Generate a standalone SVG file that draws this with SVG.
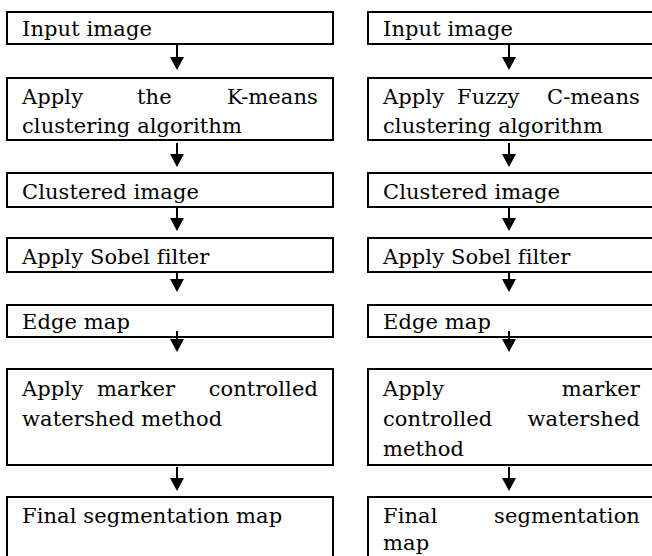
<svg xmlns="http://www.w3.org/2000/svg" width="652" height="556" viewBox="0 0 652 556">
  <style>
    .box { fill: #fff; stroke: #000; stroke-width: 2; }
    .t { font-family: "DejaVu Serif", "Liberation Serif", serif; font-size: 21px; fill: #000; letter-spacing: 0.1px; }
    .e { text-anchor: end; }
    .conn { stroke: #000; stroke-width: 2; fill: none; marker-end: url(#ah); }
  </style>
  <defs>
    <marker id="ah" viewBox="0 0 13 14" refX="1" refY="7" markerWidth="13" markerHeight="14" markerUnits="userSpaceOnUse" orient="auto">
      <path d="M0,0 L13,7 L0,14 z" fill="#000"/>
    </marker>
  </defs>
  <rect width="652" height="556" fill="#fff"/>

  <!-- Left column -->
  <g id="l1"><rect class="box" x="7" y="12" width="326" height="32"/><text class="t" x="22" y="36">Input image</text></g>
  <g id="l2"><rect class="box" x="7" y="78" width="326" height="62"/>
    <text class="t" x="22" y="104">Apply</text><text class="t" x="137" y="104">the</text><text class="t e" x="318" y="104">K-means</text>
    <text class="t" x="22" y="133">clustering algorithm</text></g>
  <g id="l3"><rect class="box" x="7" y="173" width="326" height="34"/><text class="t" x="22" y="199">Clustered image</text></g>
  <g id="l4"><rect class="box" x="7" y="238" width="326" height="34"/><text class="t" x="22" y="264">Apply Sobel filter</text></g>
  <g id="l5"><rect class="box" x="7" y="305" width="326" height="32"/><text class="t" x="22" y="329">Edge map</text></g>
  <g id="l6"><rect class="box" x="7" y="369" width="326" height="96"/>
    <text class="t" x="22" y="396">Apply</text><text class="t" x="97" y="396">marker</text><text class="t e" x="318" y="396">controlled</text>
    <text class="t" x="22" y="426">watershed method</text></g>
  <g id="l7"><rect class="box" x="7" y="497" width="326" height="80"/><text class="t" x="22" y="523">Final segmentation map</text></g>

  <!-- Right column -->
  <g id="r1"><rect class="box" x="368" y="12" width="300" height="32"/><text class="t" x="383" y="36">Input image</text></g>
  <g id="r2"><rect class="box" x="368" y="78" width="300" height="62"/>
    <text class="t" x="383" y="104">Apply</text><text class="t" x="457" y="104">Fuzzy</text><text class="t e" x="640" y="104">C-means</text>
    <text class="t" x="383" y="133">clustering algorithm</text></g>
  <g id="r3"><rect class="box" x="368" y="173" width="300" height="34"/><text class="t" x="383" y="199">Clustered image</text></g>
  <g id="r4"><rect class="box" x="368" y="238" width="300" height="34"/><text class="t" x="383" y="264">Apply Sobel filter</text></g>
  <g id="r5"><rect class="box" x="368" y="305" width="300" height="32"/><text class="t" x="383" y="329">Edge map</text></g>
  <g id="r6"><rect class="box" x="368" y="369" width="300" height="96"/>
    <text class="t" x="383" y="396">Apply</text><text class="t e" x="640" y="396">marker</text>
    <text class="t" x="383" y="426">controlled</text><text class="t e" x="640" y="426">watershed</text>
    <text class="t" x="383" y="456">method</text></g>
  <g id="r7"><rect class="box" x="368" y="497" width="300" height="80"/>
    <text class="t" x="383" y="523">Final</text><text class="t e" x="640" y="523">segmentation</text>
    <text class="t" x="383" y="550">map</text></g>

  <!-- Connectors -->
  <g id="connectors">
    <line class="conn" x1="177" y1="44" x2="177" y2="58"/>
    <line class="conn" x1="177" y1="143" x2="177" y2="155"/>
    <line class="conn" x1="177" y1="207" x2="177" y2="219"/>
    <line class="conn" x1="177" y1="272" x2="177" y2="280"/>
    <line class="conn" x1="177" y1="331" x2="177" y2="340"/>
    <line class="conn" x1="177" y1="467" x2="177" y2="479"/>
    <line class="conn" x1="509" y1="44" x2="509" y2="58"/>
    <line class="conn" x1="509" y1="143" x2="509" y2="155"/>
    <line class="conn" x1="509" y1="207" x2="509" y2="219"/>
    <line class="conn" x1="509" y1="272" x2="509" y2="280"/>
    <line class="conn" x1="509" y1="331" x2="509" y2="340"/>
    <line class="conn" x1="509" y1="467" x2="509" y2="479"/>
  </g>
</svg>
